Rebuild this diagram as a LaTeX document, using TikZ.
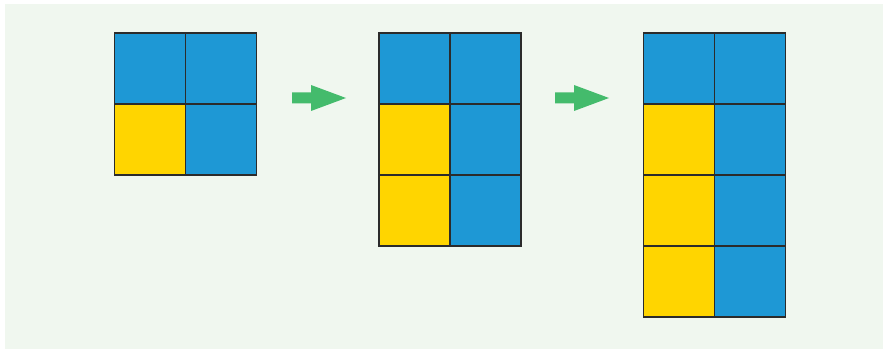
\documentclass[tikz,border=0pt]{standalone}
\definecolor{bgpanel}{HTML}{F0F7EF}
\definecolor{cblue}{HTML}{1E98D5}
\definecolor{cyellow}{HTML}{FFD500}
\definecolor{cgreen}{HTML}{44BB6C}
\definecolor{cedge}{HTML}{2B2B2B}
\tikzset{
  cell/.style={draw=cedge, line width=1.1pt, minimum size=71pt, inner sep=0pt, outer sep=0pt, anchor=north west},
  bcell/.style={cell, fill=cblue},
  ycell/.style={cell, fill=cyellow},
  garrow/.style={fill=cgreen, draw=none}
}
\begin{document}
\begin{tikzpicture}[x=1pt,y=-1pt]
\useasboundingbox (0,0) rectangle (885,350);
\fill[bgpanel] (5,4) rectangle (883,349);
% grid 1
\node[bcell] (a11) at (114.5,33) {};
\node[bcell] (a12) at (185.5,33) {};
\node[ycell] (a21) at (114.5,104) {};
\node[bcell] (a22) at (185.5,104) {};
% grid 2
\node[bcell] (b11) at (379,33) {};
\node[bcell] (b12) at (450,33) {};
\node[ycell] (b21) at (379,104) {};
\node[bcell] (b22) at (450,104) {};
\node[ycell] (b31) at (379,175) {};
\node[bcell] (b32) at (450,175) {};
% grid 3
\node[bcell] (c11) at (643.5,33) {};
\node[bcell] (c12) at (714.5,33) {};
\node[ycell] (c21) at (643.5,104) {};
\node[bcell] (c22) at (714.5,104) {};
\node[ycell] (c31) at (643.5,175) {};
\node[bcell] (c32) at (714.5,175) {};
\node[ycell] (c41) at (643.5,246) {};
\node[bcell] (c42) at (714.5,246) {};
% arrows
\fill[garrow] (292,92.5) -- (311,92.5) -- (311,85) -- (346,98) -- (311,111) -- (311,103.5) -- (292,103.5) -- cycle;
\fill[garrow] (555,92.5) -- (574,92.5) -- (574,85) -- (609,98) -- (574,111) -- (574,103.5) -- (555,103.5) -- cycle;
\end{tikzpicture}
\end{document}
